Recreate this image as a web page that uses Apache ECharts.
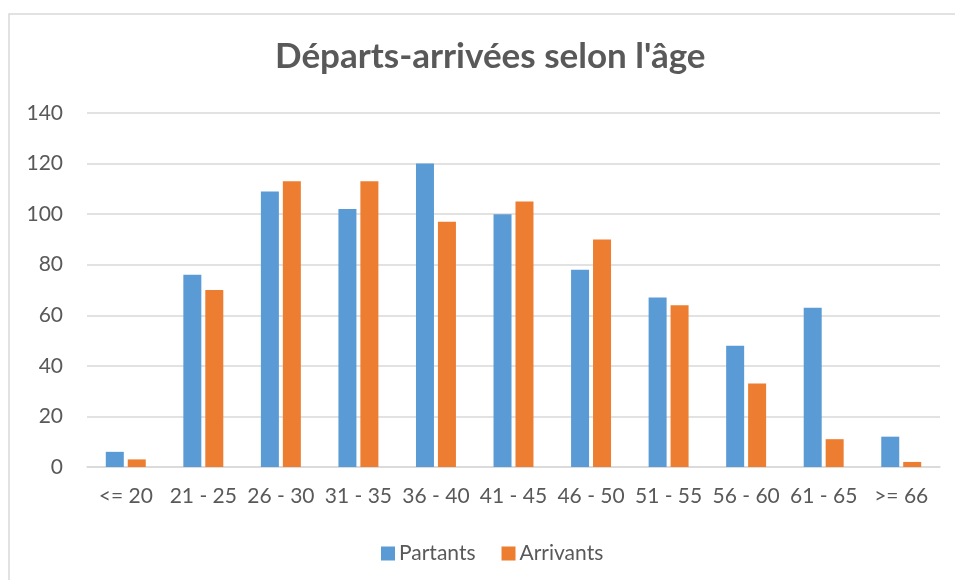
<!DOCTYPE html>
<html>
<head>
<meta charset="utf-8">
<script src="https://cdn.jsdelivr.net/npm/echarts@6/dist/echarts.min.js"></script>
<style>
    html, body { margin: 0; padding: 0; background: #fff; }
    #chart { width: 955px; height: 580px; }
</style>
</head>
<body>
<div id="chart"></div>
<script>
const ageGroups = ['<= 20', '21 - 25', '26 - 30', '31 - 35', '36 - 40', '41 - 45', '46 - 50', '51 - 55', '56 - 60', '61 - 65', '>= 66'];
const partants = [6, 76, 109, 102, 120, 100, 78, 67, 48, 63, 12];
const arrivants = [3, 70, 113, 113, 97, 105, 90, 64, 33, 11, 2];

const font = 'Lato, "Liberation Sans", sans-serif';
const textGrey = '#595959';
const lineGrey = '#d9d9d9';

let chart = echarts.init(document.getElementById('chart'));
chart.setOption({
    animation: false,
    textStyle: {fontFamily: font},
    graphic: [{
        type: 'rect',
        shape: {x: 9, y: 14, width: 980, height: 600},
        style: {fill: 'none', stroke: lineGrey, lineWidth: 1.5},
        silent: true
    }],
    title: {
        text: 'Départs-arrivées selon l\'âge',
        left: 270,
        top: 34,
        padding: 5,
        textStyle: {fontSize: 35, fontWeight: 'bold', color: textGrey, fontFamily: font}
    },
    legend: {
        bottom: 11,
        left: 376,
        itemWidth: 14,
        itemHeight: 14,
        itemGap: 26,
        icon: 'rect',
        textStyle: {fontSize: 21, color: textGrey, fontFamily: font, padding: [0, 0, 0, -1]},
        data: ['Partants', 'Arrivants']
    },
    grid: {left: 87, right: 15, top: 113, bottom: 113},
    xAxis: {
        type: 'category',
        data: ageGroups,
        axisTick: {show: false},
        axisLine: {lineStyle: {color: lineGrey, width: 1.5}},
        axisLabel: {fontSize: 21, color: textGrey, margin: 19, interval: 0}
    },
    yAxis: {
        type: 'value',
        min: 0,
        max: 140,
        interval: 20,
        axisLine: {show: false},
        axisTick: {show: false},
        splitLine: {lineStyle: {color: lineGrey, width: 1.5}},
        axisLabel: {fontSize: 21, color: textGrey, margin: 24}
    },
    series: [{
        name: 'Partants',
        type: 'bar',
        data: partants,
        barWidth: 18,
        barGap: '22%',
        itemStyle: {color: '#5B9BD5'}
    }, {
        name: 'Arrivants',
        type: 'bar',
        data: arrivants,
        barWidth: 18,
        itemStyle: {color: '#ED7D31'}
    }]
});
</script>
</body>
</html>
